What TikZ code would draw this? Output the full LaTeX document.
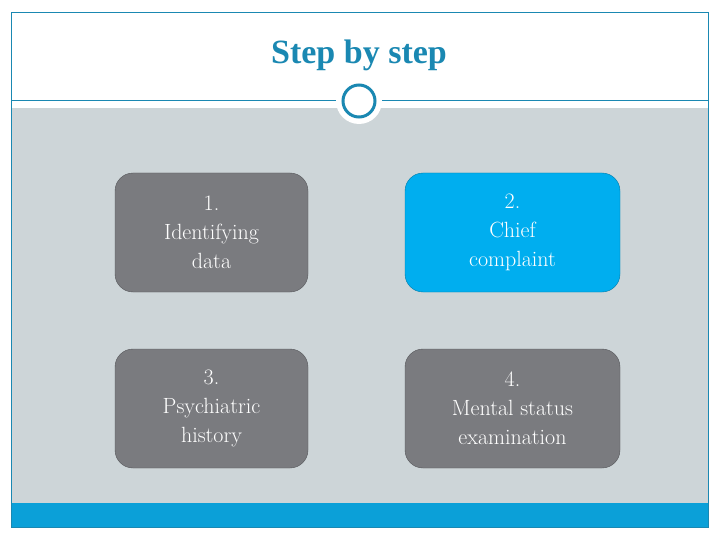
\documentclass[tikz,border=0pt]{standalone}
\usepackage{fontspec}
\newfontfamily\titlefont{Liberation Serif}
\begin{document}
\begin{tikzpicture}[x=1pt,y=-1pt,
  box/.style={draw=#1!70!black, fill=#1, rounded corners=18pt, text=white, align=center, font=\fontsize{22}{29}\selectfont, inner sep=0pt},
]
\definecolor{teal}{HTML}{1A88B2}
\definecolor{bggray}{HTML}{CDD5D8}
\definecolor{bargray}{HTML}{7A7B7F}
\definecolor{skyb}{HTML}{00AEEF}
\definecolor{barblue}{HTML}{0BA0D8}
\useasboundingbox (0,0) rectangle (720,540);
\fill[white] (0,0) rectangle (720,540);
\fill[bggray] (11,108) rectangle (708,503);
\fill[barblue] (11,503) rectangle (708,527);
\draw[teal, line width=0.8pt] (11,12) rectangle (708,527);
\draw[teal, line width=0.8pt] (11,100) -- (708,100);
\node[circle, fill=white, minimum size=46pt, inner sep=0pt] (ring) at (359,101) {};
\node[circle, draw=teal, line width=3pt, fill=white, minimum size=32pt, inner sep=0pt] (c) at (359,101) {};
\node[text=teal, font=\titlefont\bfseries\fontsize{34}{40}\selectfont] (title) at (359,55) {Step by step};
\node[box=bargray, minimum width=193pt, minimum height=119pt] (b1) at (211.5,232.5) {1.\\Identifying\\data};
\node[box=skyb, minimum width=215pt, minimum height=119pt] (b2) at (512.5,232.5) {2.\\Chief\\complaint};
\node[box=bargray, minimum width=193pt, minimum height=119pt] (b3) at (211.5,408.5) {3.\\Psychiatric\\history};
\node[box=bargray, minimum width=215pt, minimum height=119pt] (b4) at (512.5,408.5) {4.\\Mental status\\examination};
\end{tikzpicture}
\end{document}
